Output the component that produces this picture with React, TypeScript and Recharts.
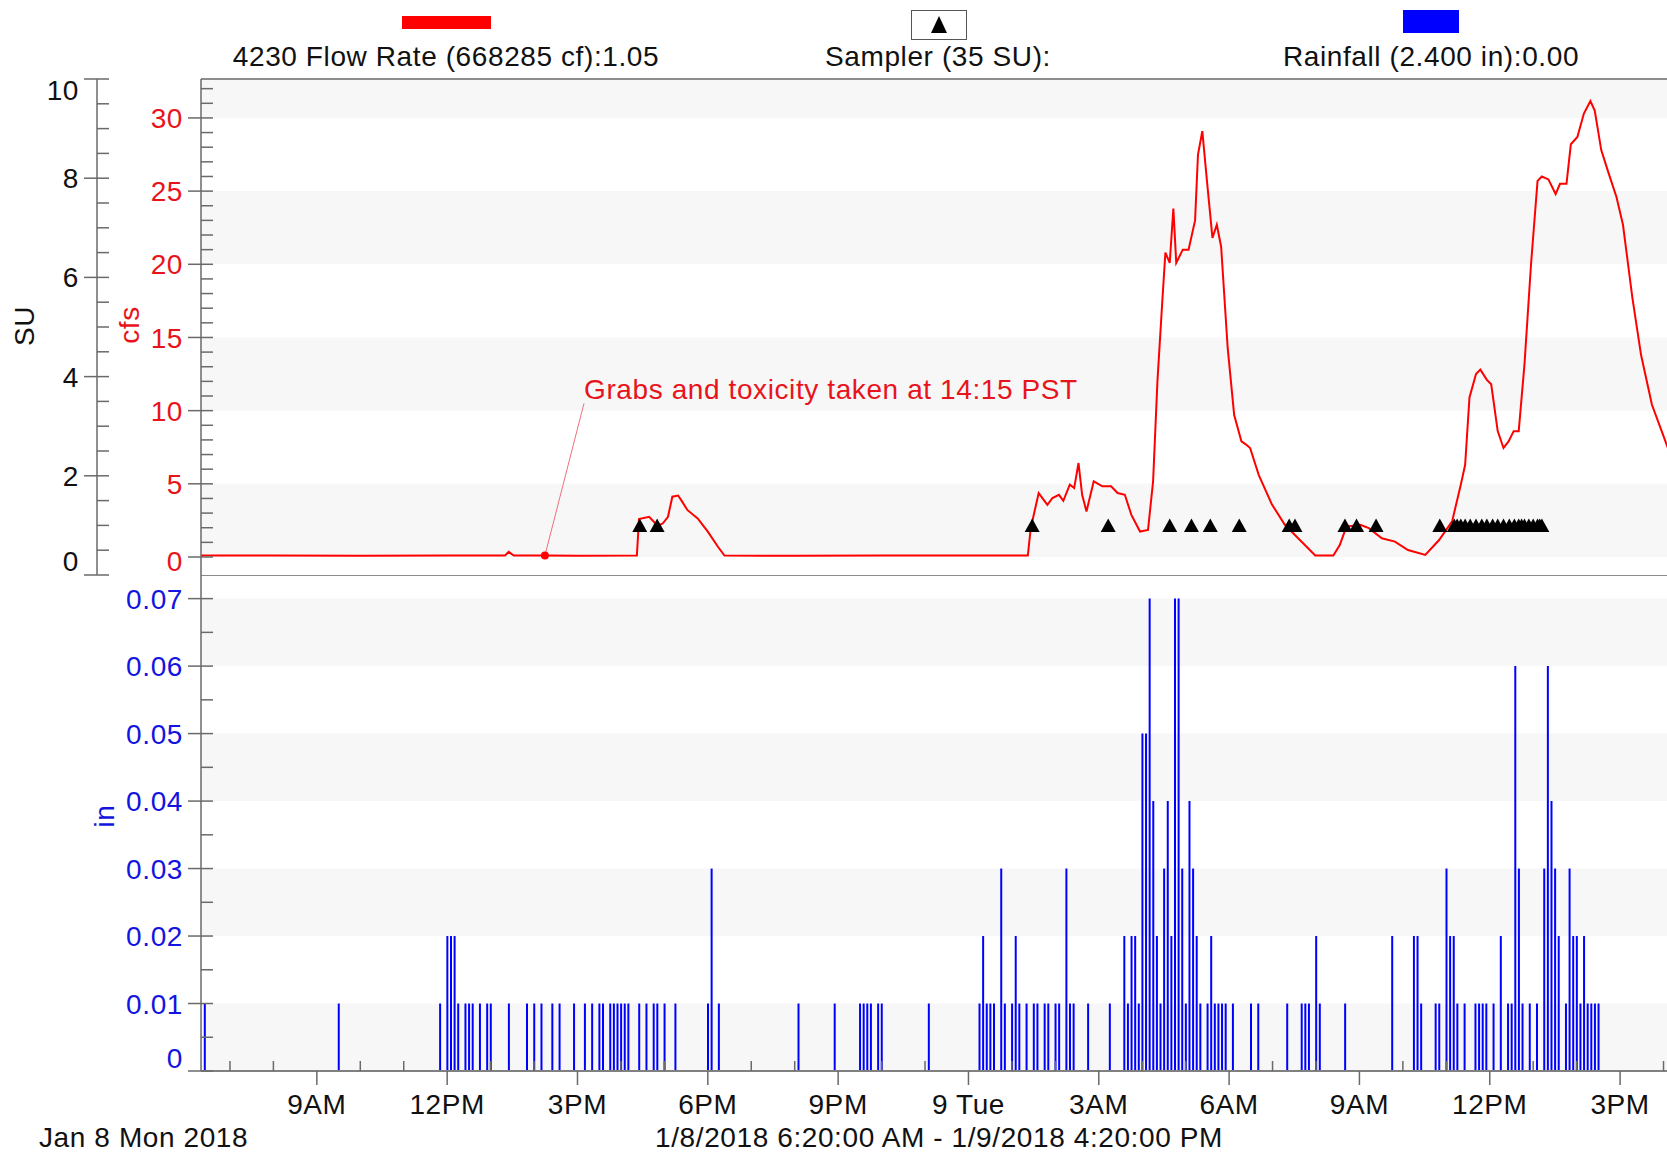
import React from 'react';
import {
  ComposedChart,
  Line,
  Scatter,
  Bar,
  XAxis,
  YAxis,
  ReferenceArea,
  ReferenceLine,
  ReferenceDot,
} from 'recharts';

const FONT = "'Liberation Sans', Arial, Helvetica, sans-serif";
const FS = 28;
const LS = 0.6;
const RED = '#ff0000';
const RED_TEXT = '#e8141c';
const BLUE = '#0000ff';
const BLUE_TEXT = '#1414e0';
const TICK = '#6a6a6a';
const BAND = '#f7f7f7';

// x values are minutes since midnight, Jan 8 2018 (6:20 AM -> 4:20 PM next day)
const X_START = 380;
const X_END = 2420;

// flow rate (cfs)
const flowMinutes = [
  380, 480, 600, 720, 800, 805, 812, 855, 900, 982, 985, 999, 1011, 1018, 1025, 1031, 1039, 1043,
  1052, 1066, 1080, 1094, 1103, 1200, 1320, 1440, 1522, 1526, 1537, 1549, 1556, 1565, 1571, 1580,
  1586, 1592, 1597, 1603, 1613, 1625, 1637, 1646, 1656, 1665, 1677, 1688, 1695, 1701, 1708, 1712,
  1718, 1723, 1727, 1736, 1744, 1753, 1757, 1763, 1769, 1777, 1783, 1789, 1798, 1807, 1817, 1823,
  1829, 1841, 1859, 1877, 1895, 1919, 1944, 1953, 1962, 1981, 1993, 2011, 2029, 2047, 2071, 2090,
  2108, 2120, 2126, 2132, 2141, 2147, 2156, 2162, 2171, 2179, 2186, 2193, 2200, 2208, 2217, 2226,
  2232, 2241, 2251, 2257, 2266, 2272, 2281, 2290, 2299, 2305, 2314, 2323, 2335, 2344, 2357, 2369,
  2384, 2399, 2410, 2420,
];
const flowCfs = [
  0.1, 0.1, 0.08, 0.1, 0.1, 0.35, 0.1, 0.1, 0.08, 0.1, 2.6, 2.75, 2.12, 2.3, 2.75, 4.12, 4.2, 3.9,
  3.2, 2.64, 1.73, 0.7, 0.1, 0.08, 0.1, 0.1, 0.1, 1.97, 4.37, 3.57, 4.03, 4.25, 3.84, 4.94,
  4.71, 6.42, 4.25, 3.11, 5.17, 4.83, 4.83, 4.37, 4.25, 2.88, 1.74, 1.85, 5.17, 12.0, 17.7, 20.8,
  20.1, 23.8, 20.1, 21.0, 21.0, 23.0, 27.5, 29.1, 25.9, 21.8, 22.7, 21.2, 14.3, 9.7, 7.9, 7.7,
  7.45, 5.6, 3.6, 2.2, 1.3, 0.1, 0.1, 0.83, 2.08, 2.2, 1.97, 1.28, 1.05, 0.48, 0.14, 1.16,
  2.43, 4.94, 6.3, 10.9, 12.5, 12.8, 12.1, 11.8, 8.6, 7.45, 7.9, 8.6, 8.6, 13.2, 20.0, 25.7,
  26.0, 25.8, 24.8, 25.5, 25.5, 28.2, 28.7, 30.3, 31.15, 30.5, 27.8, 26.4, 24.6, 22.7, 17.7, 13.8,
  10.4, 8.4, 6.9, 6.0,
];

// sampler events (plotted at 1 SU each)
const samplerMinutes = [
  986, 1010, 1528, 1633, 1718, 1748, 1774, 1814, 1883, 1891, 1960, 1976, 2003, 2091,
  2111, 2115, 2120, 2126, 2133, 2141, 2149, 2156, 2164, 2171, 2179, 2187, 2194, 2200, 2204, 2208,
  2214, 2220, 2226, 2229, 2232,
];

// rainfall per 5 minutes, in hundredths of an inch
const rainMinutes = [
  385, 570, 710, 720, 725, 730, 735, 745, 750, 755, 765, 775, 780, 805, 830, 840, 850, 865, 875, 895,
  910, 920, 930, 935, 945, 950, 955, 960, 965, 970, 985, 995, 1005, 1010, 1020, 1035, 1080, 1085, 1095,
  1205, 1255, 1290, 1295, 1300, 1305, 1315, 1320, 1385, 1455, 1460, 1465, 1470, 1475, 1485, 1490, 1500,
  1505, 1510, 1520, 1530, 1535, 1545, 1550, 1560, 1565, 1575, 1580, 1585, 1605,
  1635, 1655, 1660, 1665, 1670, 1675, 1680, 1685, 1690, 1695, 1700, 1705, 1710, 1715, 1720, 1725, 1730,
  1735, 1740, 1745, 1750, 1755, 1760, 1770, 1775, 1780, 1785, 1790, 1795, 1805, 1830, 1840, 1880, 1900,
  1905, 1910, 1920, 1925, 1960, 2025, 2055, 2060, 2065, 2085, 2090, 2100, 2105, 2110, 2115, 2125, 2140,
  2145, 2150, 2155, 2165, 2175, 2185, 2190, 2195, 2200, 2205, 2215, 2225, 2235, 2240, 2245, 2250, 2255,
  2265, 2270, 2275, 2280, 2285, 2290, 2295, 2300, 2305, 2310,
];
const rainHundredths = [
  1, 1, 1, 2, 2, 2, 1, 1, 1, 1, 1, 1, 1, 1, 1, 1, 1, 1, 1, 1,
  1, 1, 1, 1, 1, 1, 1, 1, 1, 1, 1, 1, 1, 1, 1, 1, 1, 3, 1,
  1, 1, 1, 1, 1, 1, 1, 1, 1, 1, 2, 1, 1, 1, 3, 1, 1,
  2, 1, 1, 1, 1, 1, 1, 1, 1, 3, 1, 1, 1,
  1, 2, 1, 2, 2, 1, 5, 5, 7, 4, 2, 1, 3, 4, 2, 7, 7,
  3, 1, 4, 3, 2, 1, 1, 2, 1, 1, 1, 1, 1, 1, 1, 1, 1,
  1, 1, 2, 1, 1, 2, 2, 2, 1, 1, 1, 3, 2, 2, 1, 1, 1,
  1, 1, 1, 1, 2, 1, 1, 6, 3, 1, 1, 1, 3, 6, 4, 3, 2,
  1, 3, 2, 2, 1, 2, 1, 1, 1, 1,
];

// axes ticks
const hourTicks = [
  420, 480, 540, 600, 660, 720, 780, 840, 900, 960, 1020, 1080, 1140, 1200, 1260, 1320, 1380,
  1440, 1500, 1560, 1620, 1680, 1740, 1800, 1860, 1920, 1980, 2040, 2100, 2160, 2220, 2280, 2340, 2400,
];
const majorTickMinutes = [540, 720, 900, 1080, 1260, 1440, 1620, 1800, 1980, 2160, 2340];
const majorTickLabels = ['9AM', '12PM', '3PM', '6PM', '9PM', '9 Tue', '3AM', '6AM', '9AM', '12PM', '3PM'];
const suTicks = [0, 0.5, 1, 1.5, 2, 2.5, 3, 3.5, 4, 4.5, 5, 5.5, 6, 6.5, 7, 7.5, 8, 8.5, 9, 9.5, 10];
const cfsTicks = [
  0, 1, 2, 3, 4, 5, 6, 7, 8, 9, 10, 11, 12, 13, 14, 15, 16, 17, 18, 19, 20, 21, 22, 23, 24, 25,
  26, 27, 28, 29, 30, 31, 32,
];
const inTicks = [
  0, 0.005, 0.01, 0.015, 0.02, 0.025, 0.03, 0.035, 0.04, 0.045, 0.05, 0.055, 0.06, 0.065, 0.07,
];

const CFS_DOMAIN: [number, number] = [-1.23, 32.66];
const IN_DOMAIN: [number, number] = [0, 0.0735];

const flowData = flowMinutes.map((t, i) => ({ t, cfs: flowCfs[i] }));
const samplerData = samplerMinutes.map((t) => ({ t, su: 1 }));
const rainData = rainMinutes.map((t, i) => ({ t, rain: rainHundredths[i] / 100 }));
const rainTotal = rainHundredths.reduce((a, b) => a + b, 0) / 100;

const yTick =
  (color: string, isMajor: (v: number) => boolean, fmt: (v: number) => string, nudge: (v: number) => number) =>
  (props: any) => {
    const { x, y, payload } = props;
    const v = payload.value;
    const major = isMajor(v);
    return (
      <g>
        <line x1={major ? x - 13 : x} x2={x + 12} y1={y} y2={y} stroke={TICK} strokeWidth={1.5} />
        {major && (
          <text
            x={x - 18}
            y={y + nudge(v)}
            dy="0.36em"
            textAnchor="end"
            fill={color}
            fontSize={FS}
            fontFamily={FONT}
            letterSpacing={LS}
          >
            {fmt(v)}
          </text>
        )}
      </g>
    );
  };

const suTick = yTick('#111', (v) => v % 2 === 0, (v) => String(v), (v) => (v === 10 ? 11 : v === 0 ? -14 : 0));
const cfsTick = yTick(RED_TEXT, (v) => v % 5 === 0, (v) => String(v), (v) => (v === 0 ? 4 : 0));
const inTick = yTick(
  BLUE_TEXT,
  (v) => Math.round(v * 1000) % 10 === 0,
  (v) => (v === 0 ? '0' : v.toFixed(2)),
  (v) => (v === 0 ? -13 : 0)
);

const xTick = (props: any) => {
  const { x, y, payload } = props;
  const idx = majorTickMinutes.indexOf(payload.value);
  if (idx < 0) {
    return <line x1={x} x2={x} y1={y} y2={y - 10} stroke={TICK} strokeWidth={1.5} />;
  }
  return (
    <g>
      <line x1={x} x2={x} y1={y} y2={y + 14} stroke={TICK} strokeWidth={1.5} />
      <text
        x={x}
        y={y + 33}
        dy="0.36em"
        textAnchor="middle"
        fill="#111"
        fontSize={FS}
        fontFamily={FONT}
        letterSpacing={LS}
      >
        {majorTickLabels[idx]}
      </text>
    </g>
  );
};

const triangle = (props: any) => {
  const { cx, cy } = props;
  return <polygon points={`${cx},${cy - 7} ${cx - 7.5},${cy + 6.5} ${cx + 7.5},${cy + 6.5}`} fill="#000" />;
};

const textStyle = { fontSize: FS, fontFamily: FONT, letterSpacing: LS };

export default function App() {
  return (
    <div
      style={{
        position: 'absolute',
        left: 0,
        top: 0,
        width: 1667,
        height: 1155,
        overflow: 'hidden',
        background: '#fff',
      }}
    >
      {/* rainfall panel */}
      <div style={{ position: 'absolute', left: 0, top: 575 }}>
        <ComposedChart width={1690} height={580} data={rainData} margin={{ top: 0, right: 12, bottom: 0, left: 0 }}>
          <XAxis
            dataKey="t"
            type="number"
            domain={[X_START, X_END]}
            allowDataOverflow
            ticks={hourTicks}
            interval={0}
            tickSize={0}
            tickMargin={0}
            tickLine={false}
            axisLine={{ stroke: '#808080', strokeWidth: 2 }}
            height={84}
            tick={xTick}
          />
          <YAxis
            yAxisId="in"
            type="number"
            width={201}
            domain={IN_DOMAIN}
            allowDataOverflow
            ticks={inTicks}
            interval={0}
            tickSize={0}
            tickMargin={0}
            tickLine={false}
            axisLine={{ stroke: TICK, strokeWidth: 1.5 }}
            tick={inTick}
          />
          <ReferenceArea yAxisId="in" y1={0} y2={0.01} fill={BAND} fillOpacity={1} stroke="none" />
          <ReferenceArea yAxisId="in" y1={0.02} y2={0.03} fill={BAND} fillOpacity={1} stroke="none" />
          <ReferenceArea yAxisId="in" y1={0.04} y2={0.05} fill={BAND} fillOpacity={1} stroke="none" />
          <ReferenceArea yAxisId="in" y1={0.06} y2={0.07} fill={BAND} fillOpacity={1} stroke="none" />
          <ReferenceLine yAxisId="in" y={IN_DOMAIN[1]} stroke="#8c8c8c" strokeWidth={2} />
          <Bar yAxisId="in" dataKey="rain" fill={BLUE} barSize={2} isAnimationActive={false} />
        </ComposedChart>
      </div>

      {/* flow + sampler panel (svg runs a little past the plot bottom so labels are not clipped) */}
      <div style={{ position: 'absolute', left: 0, top: 0 }}>
        <ComposedChart width={1690} height={600} data={flowData} margin={{ top: 79, right: 12, bottom: 25, left: 0 }}>
          <XAxis
            dataKey="t"
            type="number"
            domain={[X_START, X_END]}
            allowDataOverflow
            height={0}
            tick={false}
            tickLine={false}
            axisLine={{ stroke: '#8c8c8c', strokeWidth: 2 }}
          />
          <YAxis
            yAxisId="cfs"
            type="number"
            width={104}
            domain={CFS_DOMAIN}
            allowDataOverflow
            ticks={cfsTicks}
            interval={0}
            tickSize={0}
            tickMargin={0}
            tickLine={false}
            axisLine={{ stroke: TICK, strokeWidth: 1.5 }}
            tick={cfsTick}
          />
          <YAxis
            yAxisId="su"
            type="number"
            width={97}
            domain={[0, 10]}
            allowDataOverflow
            ticks={suTicks}
            interval={0}
            tickSize={0}
            tickMargin={0}
            tickLine={false}
            axisLine={{ stroke: TICK, strokeWidth: 1.5 }}
            tick={suTick}
          />
          <ReferenceArea yAxisId="cfs" y1={0} y2={5} fill={BAND} fillOpacity={1} stroke="none" />
          <ReferenceArea yAxisId="cfs" y1={10} y2={15} fill={BAND} fillOpacity={1} stroke="none" />
          <ReferenceArea yAxisId="cfs" y1={20} y2={25} fill={BAND} fillOpacity={1} stroke="none" />
          <ReferenceArea yAxisId="cfs" y1={30} y2={CFS_DOMAIN[1]} fill={BAND} fillOpacity={1} stroke="none" />
          <ReferenceLine yAxisId="cfs" y={CFS_DOMAIN[1]} stroke="#8c8c8c" strokeWidth={2} />
          <Line
            yAxisId="cfs"
            dataKey="cfs"
            type="linear"
            stroke={RED}
            strokeWidth={2}
            dot={false}
            isAnimationActive={false}
          />
          <ReferenceLine
            yAxisId="cfs"
            segment={[
              { x: 855, y: 0.1 },
              { x: 909, y: 10.5 },
            ]}
            stroke="#f0707c"
            strokeWidth={1}
          />
          <ReferenceDot yAxisId="cfs" x={855} y={0.1} r={4} fill={RED} stroke="none" />
          <ReferenceDot
            yAxisId="cfs"
            x={909}
            y={11.47}
            r={0}
            fill="none"
            stroke="none"
            label={{
              value: 'Grabs and toxicity taken at 14:15 PST',
              position: 'right',
              offset: 0,
              fill: RED_TEXT,
              fontSize: FS,
              fontFamily: FONT,
              letterSpacing: LS,
            }}
          />
          <Scatter yAxisId="su" data={samplerData} dataKey="su" shape={triangle} isAnimationActive={false} />
        </ComposedChart>
      </div>

      {/* legend, axis titles and date captions */}
      <svg
        width={1667}
        height={1155}
        style={{ position: 'absolute', left: 0, top: 0, pointerEvents: 'none' }}
      >
        <rect x={402} y={16} width={89} height={13} fill={RED} />
        <text x={446} y={56} dy="0.36em" textAnchor="middle" fill="#111" {...textStyle}>
          4230 Flow Rate (668285 cf):1.05
        </text>
        <rect x={911.5} y={10.5} width={55} height={29} fill="#fff" stroke="#555" strokeWidth={1} />
        <polygon points="939,16 931,33 947,33" fill="#000" />
        <text x={938} y={56} dy="0.36em" textAnchor="middle" fill="#111" {...textStyle}>
          {`Sampler (${samplerMinutes.length} SU):`}
        </text>
        <rect x={1403} y={10} width={56} height={23} fill={BLUE} />
        <text x={1431} y={56} dy="0.36em" textAnchor="middle" fill="#111" {...textStyle}>
          {`Rainfall (${rainTotal.toFixed(3)} in):0.00`}
        </text>

        <text
          x={24}
          y={326}
          dy="0.36em"
          textAnchor="middle"
          fill="#111"
          transform="rotate(-90 24 326)"
          {...textStyle}
        >
          SU
        </text>
        <text
          x={129}
          y={325}
          dy="0.36em"
          textAnchor="middle"
          fill={RED_TEXT}
          transform="rotate(-90 129 325)"
          {...textStyle}
        >
          cfs
        </text>
        <text
          x={104}
          y={816}
          dy="0.36em"
          textAnchor="middle"
          fill={BLUE_TEXT}
          transform="rotate(-90 104 816)"
          {...textStyle}
        >
          in
        </text>

        <text x={39} y={1137} dy="0.36em" textAnchor="start" fill="#111" {...textStyle}>
          Jan 8 Mon 2018
        </text>
        <text x={939} y={1137} dy="0.36em" textAnchor="middle" fill="#111" {...textStyle}>
          1/8/2018 6:20:00 AM - 1/9/2018 4:20:00 PM
        </text>
      </svg>
    </div>
  );
}
